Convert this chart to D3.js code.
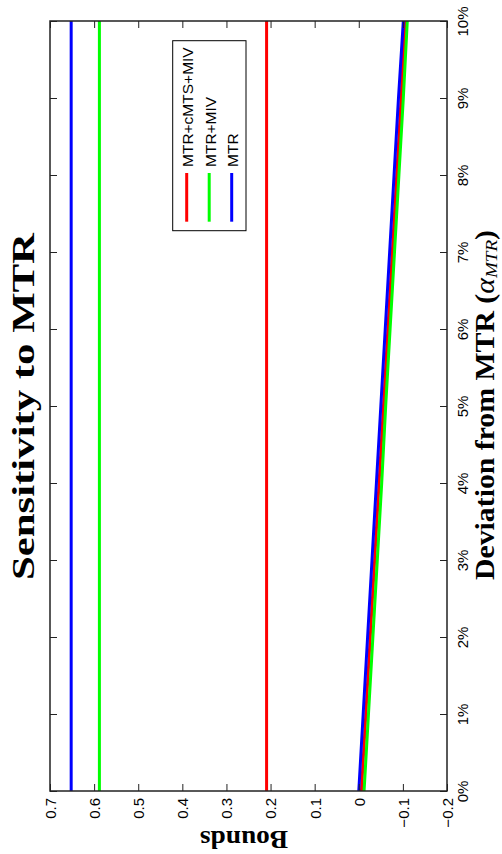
<!DOCTYPE html>
<html>
<head>
<meta charset="utf-8">
<script src="https://cdn.jsdelivr.net/npm/d3@7/dist/d3.min.js"></script>
<style>
  html, body { margin: 0; padding: 0; background: #fff; }
  svg { display: block; }
</style>
</head>
<body>
<svg id="chart" width="502" height="854"></svg>
<script>
// ---- data ----
const alpha = [0, 0.01, 0.02, 0.03, 0.04, 0.05, 0.06, 0.07, 0.08, 0.09, 0.10];
const seriesNames = ["MTR+cMTS+MIV", "MTR+MIV", "MTR"];
const seriesColors = ["#ff0000", "#00ff00", "#0000ff"];
const upperCMTS = [0.209, 0.209, 0.209, 0.209, 0.209, 0.209, 0.209, 0.209, 0.209, 0.209, 0.209];
const lowerCMTS = [-0.006, -0.016, -0.026, -0.036, -0.046, -0.056, -0.066, -0.076, -0.086, -0.096, -0.105];
const upperMIV = [0.588, 0.588, 0.588, 0.588, 0.588, 0.588, 0.588, 0.588, 0.588, 0.588, 0.588];
const lowerMIV = [-0.012, -0.022, -0.032, -0.042, -0.052, -0.061, -0.071, -0.081, -0.091, -0.101, -0.110];
const upperMTR = [0.652, 0.652, 0.652, 0.652, 0.652, 0.652, 0.652, 0.652, 0.652, 0.652, 0.652];
const lowerMTR = [0.000, -0.010, -0.020, -0.030, -0.040, -0.050, -0.060, -0.070, -0.080, -0.090, -0.101];
const boundTicks = [0.7, 0.6, 0.5, 0.4, 0.3, 0.2, 0.1, 0, -0.1, -0.2];
const boundTickLabels = ["0.7", "0.6", "0.5", "0.4", "0.3", "0.2", "0.1", "0", "\u22120.1", "\u22120.2"];
const alphaTicks = [0, 0.01, 0.02, 0.03, 0.04, 0.05, 0.06, 0.07, 0.08, 0.09, 0.10];
const alphaTickLabels = ["0%", "1%", "2%", "3%", "4%", "5%", "6%", "7%", "8%", "9%", "10%"];

const seriesUpper = [upperCMTS, upperMIV, upperMTR];
const seriesLower = [lowerCMTS, lowerMIV, lowerMTR];

// ---- layout (rotated chart: alpha runs bottom->top, bounds run right->left) ----
const plot = { left: 50, right: 447, top: 21, bottom: 791 };
const svg = d3.select("#chart");

const a = d3.scaleLinear().domain([0, 0.10]).range([plot.bottom, plot.top]);   // alpha -> screen y
const b = d3.scaleLinear().domain([-0.2, 0.7]).range([plot.right, plot.left]); // bound -> screen x

const tickFont = "'Liberation Sans', Arial, Helvetica, sans-serif";
const serif = "'Liberation Serif', 'Times New Roman', serif";
const tickLen = 7;
const axisColor = "#222";

// series lines
const line = d3.line().x(d => b(d.v)).y(d => a(d.a));
const linesG = svg.append("g");
seriesNames.forEach((name, i) => {
  [seriesUpper[i], seriesLower[i]].forEach(vals => {
    const pts = alpha.map((al, j) => ({ a: al, v: vals[j] }));
    linesG.append("path")
      .datum(pts)
      .attr("d", line)
      .attr("fill", "none")
      .attr("stroke", seriesColors[i])
      .attr("stroke-width", 3);
  });
});

// axes
function styleAxis(g) {
  g.select(".domain").remove();
  g.selectAll(".tick line").attr("stroke", axisColor).attr("stroke-width", 1);
  g.attr("font-family", tickFont).attr("font-size", 15);
  g.selectAll(".tick text").attr("fill", "#000");
}

// bottom (bounds labels)
const gBottom = svg.append("g").attr("transform", `translate(0,${plot.bottom})`)
  .call(d3.axisBottom(b).tickValues(boundTicks)
    .tickFormat((d, i) => boundTickLabels[i]).tickSizeInner(-tickLen).tickSizeOuter(0));
styleAxis(gBottom);
gBottom.selectAll(".tick text")
  .attr("x", 0).attr("y", 0).attr("dy", "0.36em")
  .attr("text-anchor", "end")
  .attr("transform", "translate(0,7) rotate(-90)");

// top (ticks only)
const gTop = svg.append("g").attr("transform", `translate(0,${plot.top})`)
  .call(d3.axisTop(b).tickValues(boundTicks).tickFormat("").tickSizeInner(-tickLen).tickSizeOuter(0));
styleAxis(gTop);

// right (alpha labels)
const gRight = svg.append("g").attr("transform", `translate(${plot.right},0)`)
  .call(d3.axisRight(a).tickValues(alphaTicks)
    .tickFormat((d, i) => alphaTickLabels[i]).tickSizeInner(-tickLen).tickSizeOuter(0));
styleAxis(gRight);
gRight.selectAll(".tick text")
  .attr("x", 0).attr("y", 0).attr("dy", 0)
  .attr("text-anchor", "middle")
  .attr("transform", "translate(21,0) rotate(-90)");

// left (ticks only)
const gLeft = svg.append("g").attr("transform", `translate(${plot.left},0)`)
  .call(d3.axisLeft(a).tickValues(alphaTicks).tickFormat("").tickSizeInner(-tickLen).tickSizeOuter(0));
styleAxis(gLeft);

// frame
svg.append("rect")
  .attr("x", plot.left).attr("y", plot.top)
  .attr("width", plot.right - plot.left).attr("height", plot.bottom - plot.top)
  .attr("fill", "none").attr("stroke", axisColor).attr("stroke-width", 1.5);

// legend
const leg = svg.append("g");
leg.append("rect")
  .attr("x", 172.7).attr("y", 40.7).attr("width", 73.3).attr("height", 190)
  .attr("fill", "#fff").attr("stroke", "#000").attr("stroke-width", 1);
seriesNames.forEach((name, i) => {
  const cx = 186.7 + i * 22.5;
  leg.append("line")
    .attr("x1", cx).attr("x2", cx).attr("y1", 173).attr("y2", 221.7)
    .attr("stroke", seriesColors[i]).attr("stroke-width", 3);
  leg.append("text")
    .attr("transform", `translate(${cx + 6.3},167) rotate(-90)`)
    .attr("font-family", tickFont).attr("font-size", 15.5)
    .attr("text-anchor", "start")
    .text(name);
});

// title
svg.append("text")
  .attr("transform", `translate(33.5,406.5) rotate(-90)`)
  .attr("font-family", serif).attr("font-weight", "bold").attr("font-size", 31)
  .attr("text-anchor", "middle")
  .attr("textLength", 347).attr("lengthAdjust", "spacingAndGlyphs")
  .text("Sensitivity to MTR");

// y label (upside down)
svg.append("text")
  .attr("transform", `translate(244,831) rotate(180)`)
  .attr("font-family", serif).attr("font-weight", "bold").attr("font-size", 24.5)
  .attr("text-anchor", "middle")
  .attr("textLength", 88).attr("lengthAdjust", "spacingAndGlyphs")
  .text("Bounds");

// x label
const xl = svg.append("text")
  .attr("transform", `translate(494,405) rotate(-90)`)
  .attr("font-family", serif).attr("font-size", 26.5)
  .attr("text-anchor", "middle")
  .attr("textLength", 350).attr("lengthAdjust", "spacingAndGlyphs");
xl.append("tspan").attr("font-weight", "bold").text("Deviation from MTR (");
xl.append("tspan").attr("font-style", "italic").attr("font-weight", "normal").text("\u03B1");
xl.append("tspan").attr("font-style", "italic").attr("font-weight", "normal").attr("font-size", 17).attr("dy", 3).text("MTR");
xl.append("tspan").attr("font-weight", "bold").attr("dy", -3).text(")");
</script>
</body>
</html>
